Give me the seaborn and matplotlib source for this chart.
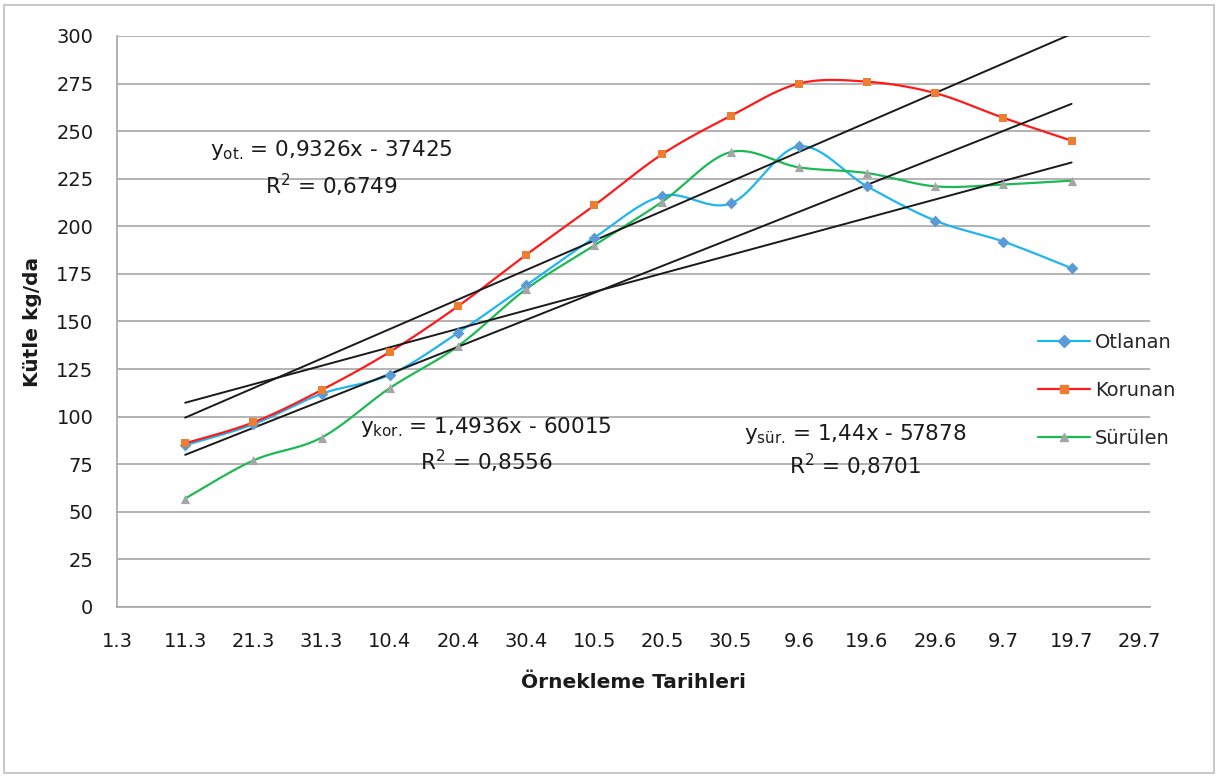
import numpy as np
import pandas as pd
import matplotlib
matplotlib.use("Agg")
import matplotlib.pyplot as plt
from matplotlib.lines import Line2D
from matplotlib.patches import Rectangle
import seaborn as sns

# ---------------- data ----------------
tick_labels = ["1.3", "11.3", "21.3", "31.3", "10.4", "20.4", "30.4", "10.5",
               "20.5", "30.5", "9.6", "19.6", "29.6", "9.7", "19.7", "29.7"]
sample_dates = ["11.3", "21.3", "31.3", "10.4", "20.4", "30.4", "10.5",
                "20.5", "30.5", "9.6", "19.6", "29.6", "9.7", "19.7"]
otlanan = [85, 96, 112, 122, 144, 169, 194, 216, 212, 242, 221, 203, 192, 178]
korunan = [86, 97, 114, 134, 158, 185, 211, 238, 258, 275, 276, 270, 257, 245]
surulen = [57, 77, 89, 115, 137, 167, 190, 213, 239, 231, 228, 221, 222, 224]
series_names = ["Otlanan", "Korunan", "Sürülen"]
equations = [r"y$_{\mathregular{ot.}}\,$= 0,9326x - 37425", r"R$^{\mathregular{2}}$ = 0,6749",
             r"y$_{\mathregular{kor.}}\,$= 1,4936x - 60015", r"R$^{\mathregular{2}}$ = 0,8556",
             r"y$_{\mathregular{sür.}}\,$= 1,44x - 57878", r"R$^{\mathregular{2}}$ = 0,8701"]

# ---------------- style ----------------
sns.set_style("white")
plt.rcParams["font.family"] = ["DejaVu Sans"]
plt.rcParams["mathtext.default"] = "regular"

W, H = 1219, 778
fig = plt.figure(figsize=(W / 100, H / 100), dpi=100)
ax = fig.add_axes([117 / W, 1 - 607 / H, (1150 - 117) / W, (607 - 36) / H])

# chart border
fig.patches.append(Rectangle((4 / W, 5 / H), (1214 - 4) / W, (773 - 5) / H,
                             transform=fig.transFigure, fill=False,
                             edgecolor="#BFBFBF", linewidth=1.2))

pos = {lab: i for i, lab in enumerate(tick_labels)}
x = np.array([pos[d] for d in sample_dates], dtype=float)


def excel_smooth(xs, ys, n=30):
    xs = np.asarray(xs, float)
    ys = np.asarray(ys, float)
    P = np.column_stack([xs, ys])
    Pe = np.vstack([P[0], P, P[-1]])
    out = []
    t = np.linspace(0, 1, n)[:, None]
    for i in range(len(P) - 1):
        p0, p1, p2, p3 = Pe[i], Pe[i + 1], Pe[i + 2], Pe[i + 3]
        c1 = p1 + (p2 - p0) / 6
        c2 = p2 - (p3 - p1) / 6
        seg = ((1 - t) ** 3) * p1 + 3 * ((1 - t) ** 2) * t * c1 + 3 * (1 - t) * t ** 2 * c2 + t ** 3 * p2
        out.append(seg if i == 0 else seg[1:])
    out = np.vstack(out)
    return out[:, 0], out[:, 1]


line_colors = ["#1FB5F0", "#FF1A1A", "#1DB954"]
marker_colors = ["#5B9BD5", "#ED7D31", "#A5A5A5"]
markers = ["D", "s", "^"]
msizes = [36, 36, 44]
all_vals = [otlanan, korunan, surulen]

for vals, lc, mc, mk, ms in zip(all_vals, line_colors, marker_colors, markers, msizes):
    sx, sy = excel_smooth(x, vals)
    sns.lineplot(x=sx, y=sy, sort=False, estimator=None, color=lc, linewidth=1.6, ax=ax)
    sns.scatterplot(x=x, y=vals, marker=mk, color=mc, s=ms, linewidth=0, ax=ax, zorder=4)

for vals in all_vals:
    sns.regplot(x=x, y=np.array(vals, float), scatter=False, ci=None, truncate=True,
                color="#1A1A1A", line_kws={"linewidth": 1.4}, ax=ax)

# axes
ax.set_xlim(0, 15.15)
ax.set_ylim(0, 300)
ax.set_yticks(np.arange(0, 301, 25))
ax.set_xticks(range(len(tick_labels)))
ax.set_xticklabels(tick_labels)
ax.yaxis.grid(True, color="#A6A6A6", linewidth=1.2)
ax.xaxis.grid(False)
ax.set_axisbelow(True)
for s in ["top", "right"]:
    ax.spines[s].set_visible(False)
for s in ["left", "bottom"]:
    ax.spines[s].set_color("#A6A6A6")
    ax.spines[s].set_linewidth(1.2)
ax.tick_params(axis="both", direction="out", length=8, width=1.2, color="#A6A6A6",
               labelsize=14, labelcolor="#1A1A1A")
ax.tick_params(axis="x", pad=10)
ax.tick_params(axis="y", pad=9)
ax.set_xlabel("Örnekleme Tarihleri", fontsize=14.5, fontweight="bold", labelpad=16, color="#1A1A1A")
ax.set_ylabel("Kütle kg/da", fontsize=14.5, fontweight="bold", labelpad=10, color="#1A1A1A")

# equation labels
eq_pos = [(1.36, 240), (2.17, 221.5), (3.56, 94.5), (4.44, 76.5), (9.19, 91), (9.85, 74.5)]
for txt, (ex, ey) in zip(equations, eq_pos):
    ax.text(ex, ey, txt, fontsize=15.5, va="center", ha="left", color="#1A1A1A")

# legend
handles = [Line2D([0], [0], color=lc, marker=mk, markerfacecolor=mc, markeredgecolor=mc,
                  markersize=6, linewidth=1.6)
           for lc, mc, mk in zip(line_colors, marker_colors, markers)]
fig.legend(handles, series_names, loc="upper left", bbox_to_anchor=(1030 / W, 1 - 325 / H),
           frameon=False, fontsize=14, labelspacing=1.5, handlelength=2.7, handletextpad=0.25,
           borderaxespad=0)

fig.savefig("out.png", dpi=100)
